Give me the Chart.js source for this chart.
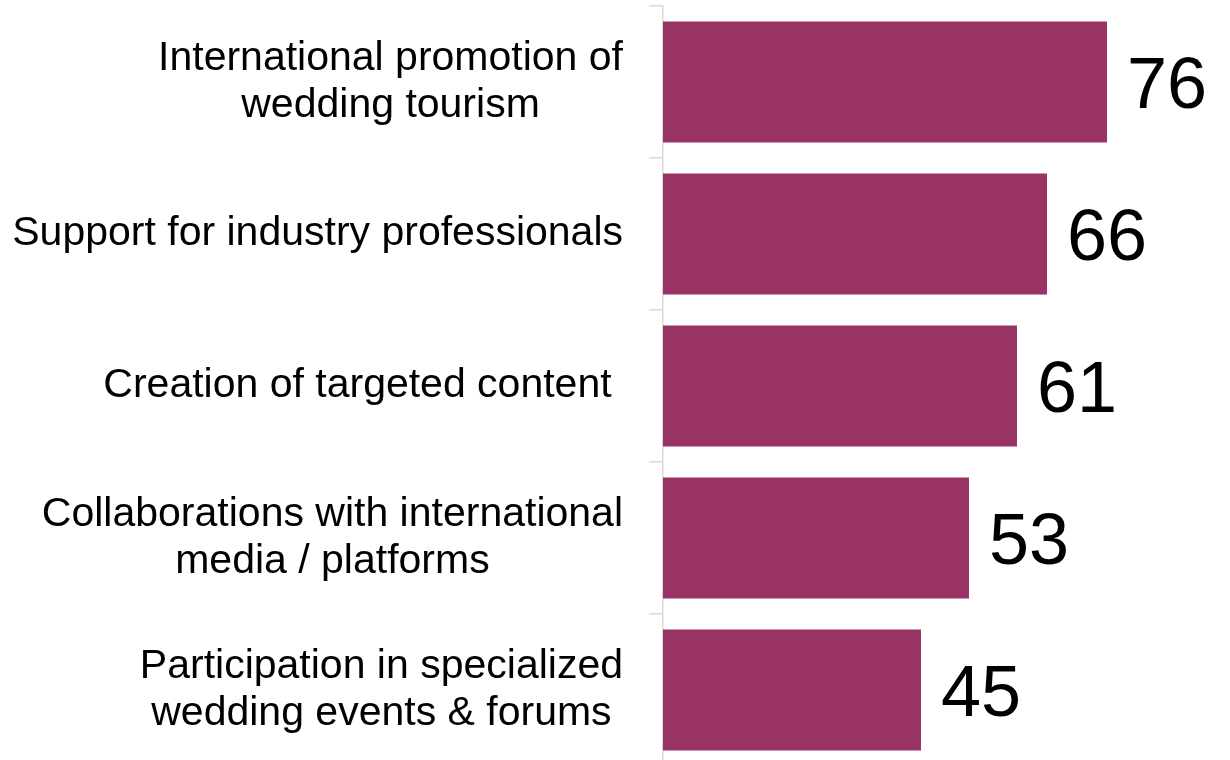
<!DOCTYPE html>
<html>
<head>
<meta charset="utf-8">
<script src="https://cdn.jsdelivr.net/npm/chart.js@4.4.0/dist/chart.umd.min.js"></script>
<style>
  html, body { margin: 0; padding: 0; background: #fff; overflow: hidden; }
  #wrap { position: relative; width: 1230px; height: 766px; }
</style>
</head>
<body>
<div id="wrap"><canvas id="priorityChart"></canvas></div>
<script>
// ---------------- DATA ----------------
const categories = [
    ["International promotion of", "wedding tourism"],
    ["Support for industry professionals"],
    ["Creation of targeted content "],
    ["Collaborations with international", "media / platforms"],
    ["Participation in specialized", "wedding events & forums"]
];
const scores = [76, 66, 61, 53, 45];

const BAR_COLOR = "#993366";
const AXIS_COLOR = "#d9d9d9";

// category labels: each block centred on itself, block right edge fixed
const categoryLabels = {
    id: "categoryLabels",
    afterDraw(chart) {
        const ctx = chart.ctx;
        const y = chart.scales.y;
        const rightEdge = 623;
        const lineH = 47;
        ctx.save();
        ctx.font = '41px "Liberation Sans Narrow", "Arial Narrow", sans-serif';
        ctx.fillStyle = "#000";
        ctx.textAlign = "center";
        ctx.textBaseline = "middle";
        categories.forEach((lines, i) => {
            const widest = Math.max(...lines.map(l => ctx.measureText(l.trimEnd() === l ? l : l).width));
            const cx = rightEdge - widest / 2;
            const cy = y.getPixelForValue(i);
            const top = cy - (lines.length - 1) * lineH / 2;
            lines.forEach((l, k) => ctx.fillText(l, cx, top + k * lineH));
        });
        ctx.restore();
    }
};

// value printed after the end of each bar
const valueLabels = {
    id: "valueLabels",
    afterDatasetsDraw(chart) {
        const ctx = chart.ctx;
        const meta = chart.getDatasetMeta(0);
        ctx.save();
        ctx.font = '72px "Liberation Sans", Arial, sans-serif';
        ctx.fillStyle = "#000";
        ctx.textAlign = "left";
        ctx.textBaseline = "alphabetic";
        meta.data.forEach((bar, i) => {
            ctx.fillText(String(scores[i]), bar.x + 20, bar.y + 26);
        });
        ctx.restore();
    }
};

new Chart(document.getElementById("priorityChart"), {
    type: "bar",
    data: {
        labels: categories,
        datasets: [{
            data: scores,
            backgroundColor: BAR_COLOR,
            borderWidth: 0,
            barPercentage: 0.795,
            categoryPercentage: 1
        }]
    },
    options: {
        indexAxis: "y",
        responsive: true,
        maintainAspectRatio: false,
        animation: false,
        layout: { padding: { top: 6, right: 0, bottom: 0, left: 0 } },
        plugins: {
            legend: { display: false },
            tooltip: { enabled: false }
        },
        scales: {
            x: {
                display: false,
                min: 2,
                max: 96.5
            },
            y: {
                afterFit(scale) { scale.width = 663; },
                ticks: { display: false },
                grid: {
                    display: true,
                    drawOnChartArea: false,
                    drawTicks: true,
                    tickLength: 14,
                    color: AXIS_COLOR,
                    lineWidth: 1.5
                },
                border: { display: true, color: AXIS_COLOR, width: 1.5 }
            }
        }
    },
    plugins: [categoryLabels, valueLabels]
});
</script>
</body>
</html>
